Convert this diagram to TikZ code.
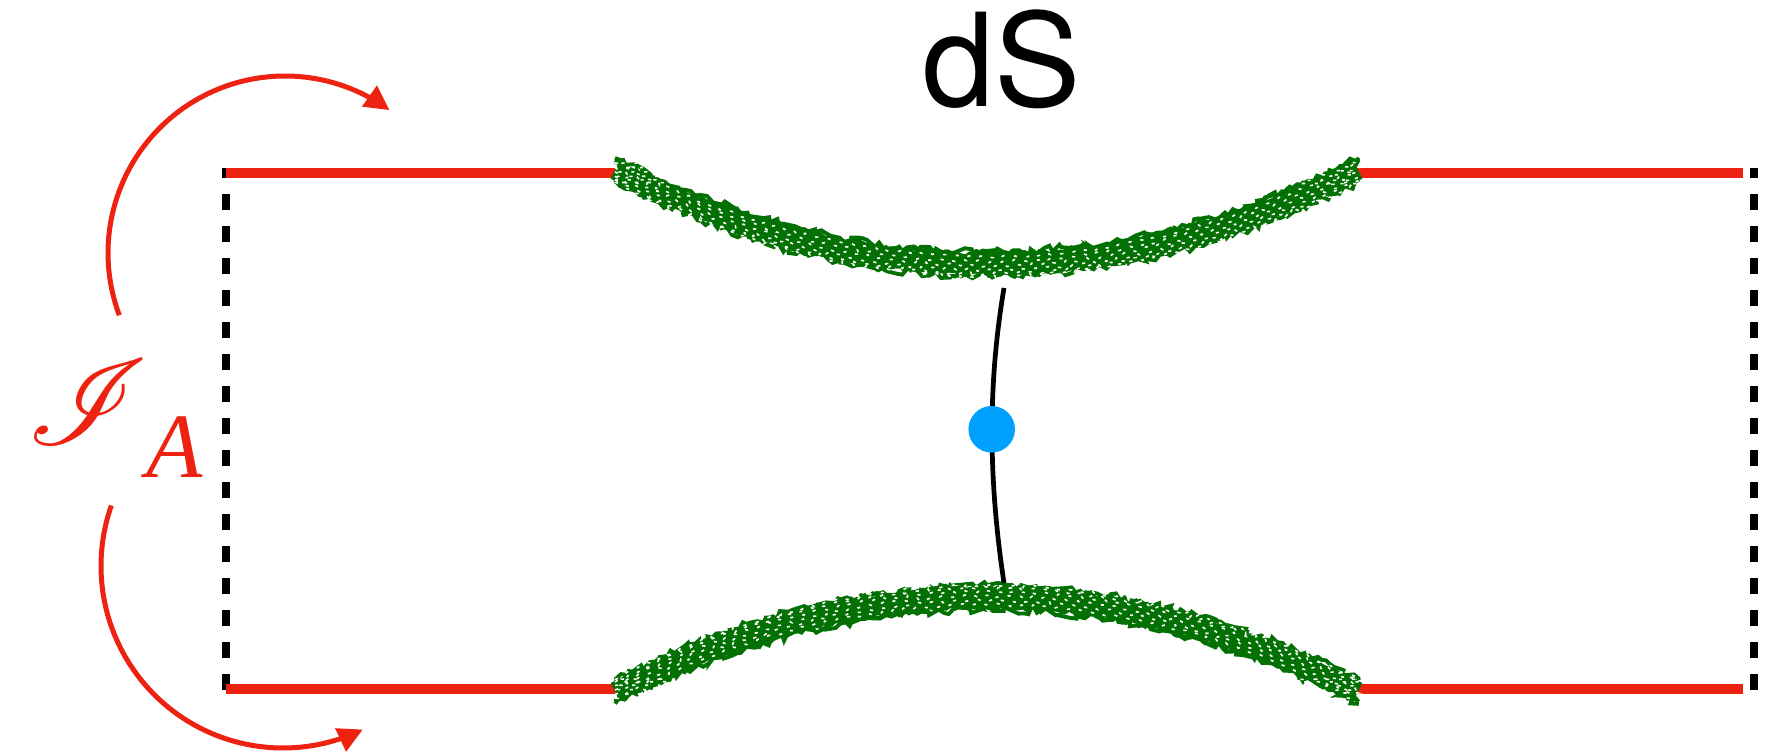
\documentclass[tikz,border=0pt]{standalone}
\usepackage{fontspec}
\usepackage{mathrsfs}
\setmainfont{Liberation Serif}
\newfontfamily\helv{TeX Gyre Heros}
\usetikzlibrary{arrows.meta,decorations.pathmorphing}
\definecolor{myred}{RGB}{238,34,17}
\definecolor{mygreen}{RGB}{2,112,2}
\definecolor{myblue}{RGB}{0,160,255}
\begin{document}
\begin{tikzpicture}[x=0.02cm,y=-0.02cm,
  redline/.style={myred, line width=5.4pt},
  boundary/.style={black, line width=4.55pt, dash pattern=on 9.2pt off 9pt},
  gbase/.style={mygreen, line width=11pt},
  gedge/.style={mygreen, line width=2.2pt, decorate, decoration={random steps,segment length=3pt,amplitude=2.1pt}},
  gspeck/.style={white, line width=0.9pt, dash pattern=on 1.8pt off 5.5pt, decorate, decoration={random steps,segment length=1.5pt,amplitude=0.8pt}},
  flow/.style={myred, line width=2.85pt, -{Triangle[length=14pt,width=14pt]}},
  worldline/.style={black, line width=2.7pt},
  dot/.style={circle, fill=myblue, minimum size=26.5pt, inner sep=0pt},
  title/.style={font=\helv\fontsize{73.7}{80}\selectfont, inner sep=0pt},
  lbl/.style={text=myred, inner sep=0pt}]
\useasboundingbox (0,0) rectangle (1792,756);
\pgfmathsetseed{7}
% corners
\coordinate (TL) at (226,173);
\coordinate (BL) at (226,689);
\coordinate (TR) at (1742.7,173);
\coordinate (BR) at (1742.7,689);
\coordinate (dTL) at (225.7,168);
\coordinate (dBL) at (225.7,690);
\coordinate (dTR) at (1753.7,168);
\coordinate (dBR) at (1753.7,690);
\coordinate (gTL) at (617,173);
\coordinate (gTR) at (1355,173);
\coordinate (gBL) at (617,689);
\coordinate (gBR) at (1355,689);
% dashed sides
\draw[boundary] (dBL) -- (dTL);
\draw[boundary] (dBR) -- (dTR);
% red lines
\draw[redline] (TL) -- (gTL);
\draw[redline] (gTR) -- (TR);
\draw[redline] (BL) -- (gBL);
\draw[redline] (gBR) -- (BR);
% green top
\draw[gbase] (615,170) .. controls (862.7,295.3) and (1110.3,295.3) .. (1358,170);
\foreach \d in {-6.8,-5.6,-4.5,4.5,5.6,6.8}
  \draw[gedge, yshift=\d pt] (615,170) .. controls (862.7,295.3) and (1110.3,295.3) .. (1358,170);
\foreach \d in {-4,-1.5,1,3.5,5.5,7}
  \draw[gspeck, yshift=-\d pt] (615,170) .. controls (862.7,295.3) and (1110.3,295.3) .. (1358,170);
% green bottom
\draw[gbase] (615,691.6) .. controls (862.7,566.3) and (1110.3,566.3) .. (1358,691.6);
\foreach \d in {-6.8,-5.6,-4.5,4.5,5.6,6.8}
  \draw[gedge, yshift=\d pt] (615,691.6) .. controls (862.7,566.3) and (1110.3,566.3) .. (1358,691.6);
\foreach \d in {-4,-1.5,1,3.5,5.5,7}
  \draw[gspeck, yshift=\d pt] (615,691.6) .. controls (862.7,566.3) and (1110.3,566.3) .. (1358,691.6);
% world line and dot
\coordinate (wTop) at (1004,288);
\coordinate (wBot) at (1004,583);
\draw[worldline] (wTop) .. controls (988,383) and (988,477) .. (wBot);
\node[dot] (obs) at (991.7,429.3) {};
% title
\node[title, anchor=base] (dS) at (1001.7,107) {dS};
% label
\node[lbl, anchor=base west] (IA) at (27.5,445) {\makebox[67.7pt][l]{\scalebox{6.9}{$\mathscr{I}$}}\raisebox{-18.4pt}{\fontsize{52.4}{60}\selectfont\itshape A}};
% flow arrows
\draw[flow] plot[domain=0:1, samples=80, variable=\t] ({285+177*cos(159.4+146.9*\t)},{253+177*sin(159.4+146.9*\t)});
\draw[flow] plot[domain=0:1, samples=80, variable=\t] ({283+182*cos(199.4-135.5*\t)},{566+182*sin(199.4-135.5*\t)});
\end{tikzpicture}
\end{document}
